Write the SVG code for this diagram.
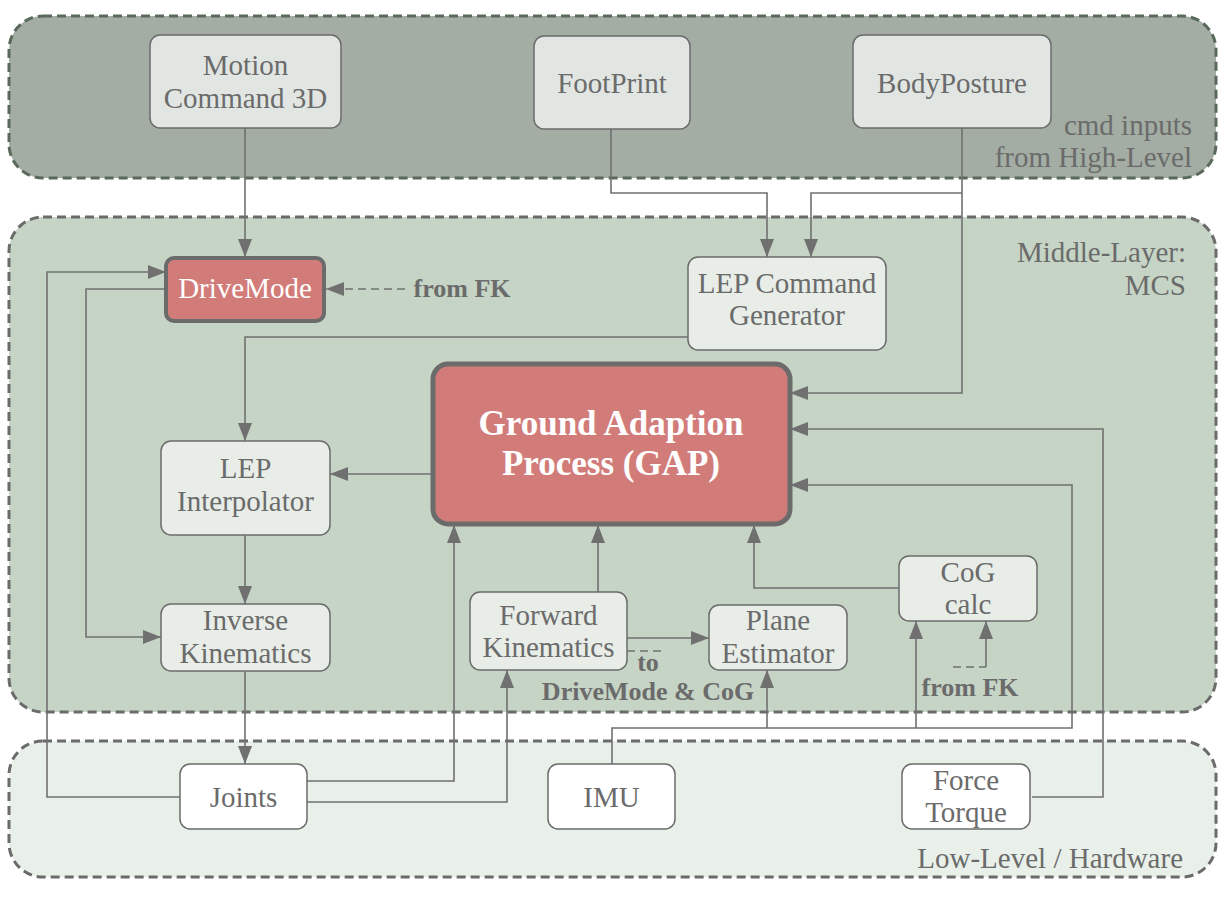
<svg xmlns="http://www.w3.org/2000/svg" width="1227" height="915" viewBox="0 0 1227 915">
<style>
text{font-family:"Liberation Serif","Times New Roman",serif;fill:#6b6b6b;font-size:29px;text-anchor:middle}
.lbl{text-anchor:end}
.b{font-weight:bold;font-size:26px}
.w{fill:#ffffff}
.gap{font-weight:bold;font-size:35px;fill:#ffffff}
.grp{stroke-width:3;stroke-dasharray:9,5}
.n1{fill:#e2e6e3;stroke:#6b6b6b;stroke-width:1.5}
.n2{fill:#e8ede8;stroke:#6b6b6b;stroke-width:1.5}
.n3{fill:#ffffff;stroke:#6b6b6b;stroke-width:1.5}
.hot{fill:#d27c7a;stroke:#6b6b6b}
.c{fill:none;stroke:#707070;stroke-width:1.6}
.d{stroke-dasharray:8,5}
</style>
<defs>
<marker id="a" markerUnits="userSpaceOnUse" markerWidth="18" markerHeight="14" refX="18" refY="7" orient="auto">
<path d="M0,0 L18,7 L0,14 z" fill="#707070"/>
</marker>
</defs>
<g id="groups">
<rect id="high-level" class="grp" x="9" y="16" width="1207" height="162" rx="34" fill="#a3ada3" stroke="#5a6a5a"/>
<rect id="middle-layer" class="grp" x="9" y="217" width="1207" height="495" rx="34" fill="#c6d4c5" stroke="#6b6b6b"/>
<rect id="low-level" class="grp" x="9" y="741" width="1207" height="136" rx="34" fill="#e9f0e9" stroke="#6b6b6b"/>
<text class="lbl" x="1192" y="135">cmd inputs</text>
<text class="lbl" x="1192" y="167">from High-Level</text>
<text class="lbl" x="1186" y="262">Middle-Layer:</text>
<text class="lbl" x="1186" y="295">MCS</text>
<text class="lbl" x="1183" y="868">Low-Level / Hardware</text>
</g>
<g id="connectors">
<path class="c" d="M245,128 V257" marker-end="url(#a)"/>
<path class="c" d="M611,129 V193 H767 V257" marker-end="url(#a)"/>
<path class="c" d="M962,128 V393 H790" marker-end="url(#a)"/>
<path class="c" d="M962,193 H811 V257" marker-end="url(#a)"/>
<path class="c" d="M688,337 H245 V441" marker-end="url(#a)"/>
<path class="c" d="M432,474 H330" marker-end="url(#a)"/>
<path class="c" d="M245,535 V604" marker-end="url(#a)"/>
<path class="c" d="M245,672 V764" marker-end="url(#a)"/>
<path class="c" d="M180,797 H47 V272 H166" marker-end="url(#a)"/>
<path class="c" d="M166,289 H86 V637 H161" marker-end="url(#a)"/>
<path class="c" d="M307,781 H454 V525" marker-end="url(#a)"/>
<path class="c" d="M307,802 H507 V670" marker-end="url(#a)"/>
<path class="c" d="M598,592 V525" marker-end="url(#a)"/>
<path class="c" d="M627,638 H709" marker-end="url(#a)"/>
<path class="c d" d="M627,651 H664"/>
<path class="c" d="M899,588 H754 V525" marker-end="url(#a)"/>
<path class="c" d="M612,764 V728 H1072 V485 H790" marker-end="url(#a)"/>
<path class="c" d="M767,728 V670" marker-end="url(#a)"/>
<path class="c" d="M916,728 V621" marker-end="url(#a)"/>
<path class="c" d="M1032,797 H1103 V429 H790" marker-end="url(#a)"/>
<path class="c d" d="M953,667 H986"/>
<path class="c" d="M986,667 V621" marker-end="url(#a)"/>
<path class="c d" d="M405,289 H326" marker-end="url(#a)"/>
<text class="b" x="462" y="297">from FK</text>
<text class="b" x="648" y="671">to</text>
<text class="b" x="648" y="700">DriveMode &amp; CoG</text>
<text class="b" x="970" y="696">from FK</text>
</g>
<g id="motion-command-3d">
<rect class="n1" x="150" y="35" width="191" height="93" rx="10"/>
<text x="245.5" y="75">Motion</text>
<text x="245.5" y="108">Command 3D</text>
</g>
<g id="footprint">
<rect class="n1" x="534" y="36" width="156" height="93" rx="10"/>
<text x="612" y="93">FootPrint</text>
</g>
<g id="bodyposture">
<rect class="n1" x="853" y="35" width="198" height="93" rx="10"/>
<text x="952" y="93">BodyPosture</text>
</g>
<g id="drivemode">
<rect class="hot" x="166" y="258" width="158" height="63" rx="8" stroke-width="4"/>
<text class="w" x="245" y="298">DriveMode</text>
</g>
<g id="lep-command-generator">
<rect class="n2" x="688" y="257" width="198" height="93" rx="10"/>
<text x="787" y="293">LEP Command</text>
<text x="787" y="325">Generator</text>
</g>
<g id="gap">
<rect class="hot" x="433" y="364" width="357" height="160" rx="15" stroke-width="5"/>
<text class="gap" x="611" y="435">Ground Adaption</text>
<text class="gap" x="611" y="475">Process (GAP)</text>
</g>
<g id="lep-interpolator">
<rect class="n2" x="161" y="441" width="169" height="94" rx="10"/>
<text x="245.5" y="478">LEP</text>
<text x="245.5" y="511">Interpolator</text>
</g>
<g id="inverse-kinematics">
<rect class="n2" x="161" y="604" width="169" height="67" rx="10"/>
<text x="245.5" y="630">Inverse</text>
<text x="245.5" y="663">Kinematics</text>
</g>
<g id="forward-kinematics">
<rect class="n2" x="470" y="592" width="157" height="78" rx="10"/>
<text x="548.5" y="625">Forward</text>
<text x="548.5" y="657">Kinematics</text>
</g>
<g id="plane-estimator">
<rect class="n2" x="709" y="605" width="138" height="65" rx="10"/>
<text x="778" y="630">Plane</text>
<text x="778" y="663">Estimator</text>
</g>
<g id="cog-calc">
<rect class="n2" x="899" y="556" width="138" height="65" rx="10"/>
<text x="968" y="582">CoG</text>
<text x="968" y="614">calc</text>
</g>
<g id="joints">
<rect class="n3" x="180" y="764" width="127" height="65" rx="10"/>
<text x="243.5" y="807">Joints</text>
</g>
<g id="imu">
<rect class="n3" x="548" y="764" width="127" height="65" rx="10"/>
<text x="611.5" y="807">IMU</text>
</g>
<g id="force-torque">
<rect class="n3" x="902" y="764" width="128" height="65" rx="10"/>
<text x="966" y="790">Force</text>
<text x="966" y="822">Torque</text>
</g>
</svg>
